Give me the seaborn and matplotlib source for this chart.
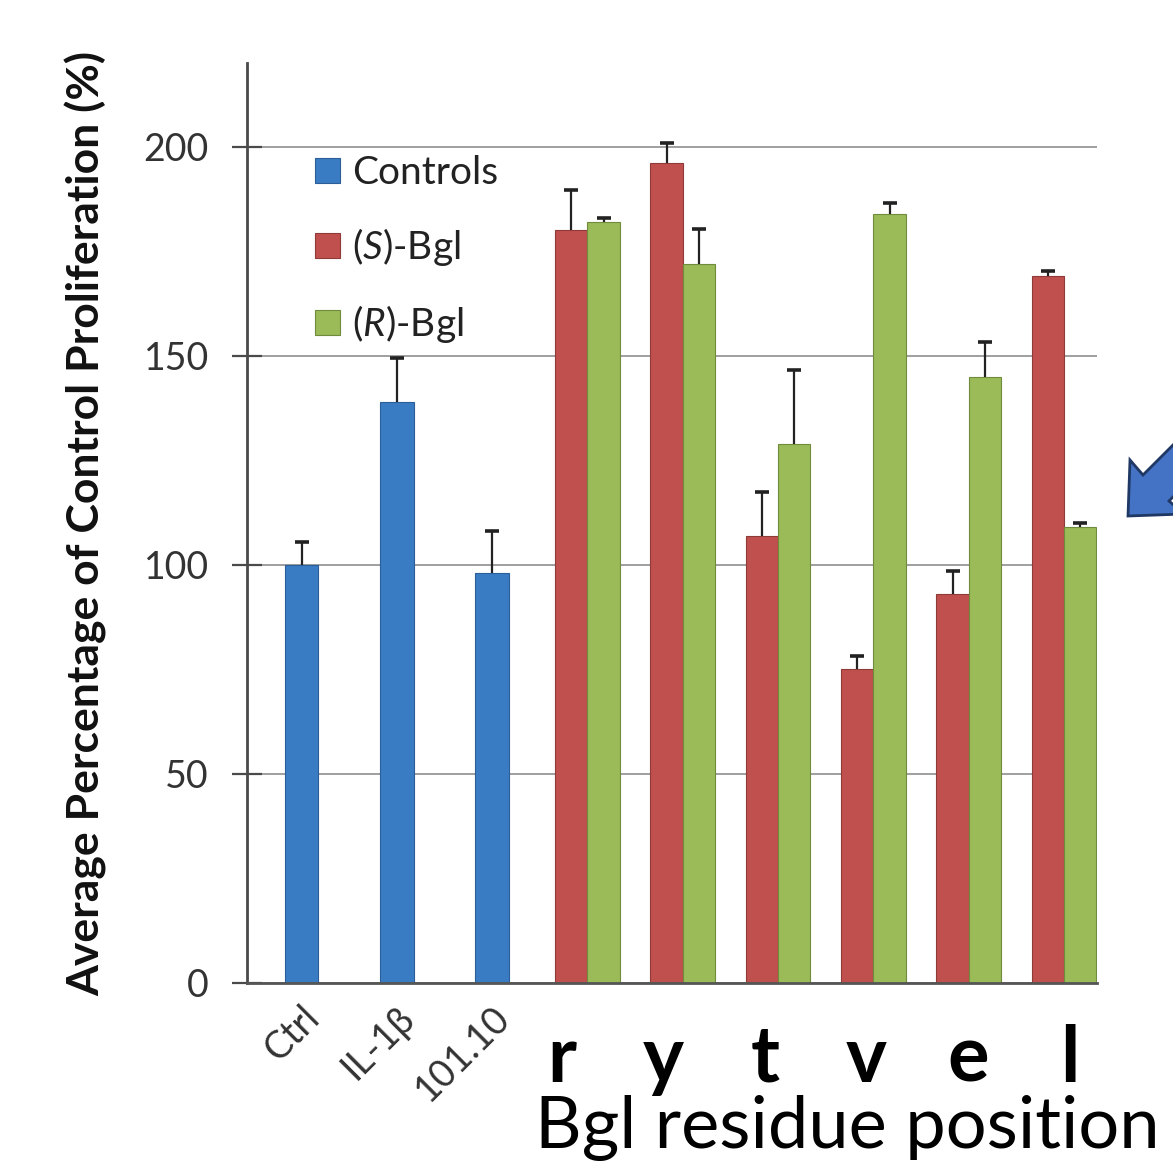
import numpy as np
import pandas as pd
import matplotlib.pyplot as plt
import matplotlib.transforms as mtransforms
from matplotlib.patches import Patch, Polygon
import seaborn as sns

# Values
CONTROL_LABELS = ["Ctrl", "IL-1\u03b2", "101.10"]
CONTROL_VALUES = [100, 139, 98]
CONTROL_ERR = [5.5, 10.5, 10]

RESIDUES = ["r", "y", "t", "v", "e", "l"]
S_VALUES = [180, 196, 107, 75, 93, 169]
S_ERR = [9.7, 4.8, 10.5, 3.1, 5.5, 1.2]
R_VALUES = [182, 172, 129, 184, 145, 109]
R_ERR = [0.9, 8.2, 17.6, 2.6, 8.3, 0.9]

SERIES = ["Controls", "(S)-Bgl", "(R)-Bgl"]
LEGEND_LABELS = ["Controls", "($\\mathit{S}$)-Bgl", "($\\mathit{R}$)-Bgl"]
COLORS = ["#3A7CC4", "#C0504D", "#9BBB59"]
EDGES = ["#2B5E98", "#8E3A38", "#6F8B3C"]

CATEGORIES = CONTROL_LABELS + RESIDUES

sns.set_theme(style="white")
plt.rcParams["font.family"] = ["Lato", "DejaVu Sans"]
plt.rcParams["mathtext.fontset"] = "custom"
plt.rcParams["mathtext.rm"] = "Lato"
plt.rcParams["mathtext.it"] = "Lato:italic"

fig = plt.figure(figsize=(11.73, 11.63), dpi=100, facecolor="white")
ax = fig.add_axes([0.2106, 0.1548, 0.7246, 0.791])

# Control bars
sns.barplot(x=CONTROL_LABELS, y=CONTROL_VALUES, order=CATEGORIES, color=COLORS[0],
            saturation=1, width=0.35, edgecolor=EDGES[0], linewidth=0.8, ax=ax)

# Paired (S)/(R) bars
pairs = pd.DataFrame({
    "residue": RESIDUES * 2,
    "value": S_VALUES + R_VALUES,
    "series": [SERIES[1]] * len(RESIDUES) + [SERIES[2]] * len(RESIDUES),
})
sns.barplot(data=pairs, x="residue", y="value", hue="series", order=CATEGORIES,
            hue_order=SERIES[1:], palette=COLORS[1:], saturation=1, width=0.68,
            dodge=True, edgecolor="#555555", linewidth=0.8, legend=False, ax=ax)

for cont, edge in zip(ax.containers[1:], EDGES[1:]):
    for p in cont:
        p.set_edgecolor(edge)

# Upper-only error bars
for cont, vals, errs in zip(ax.containers, [CONTROL_VALUES, S_VALUES, R_VALUES],
                            [CONTROL_ERR, S_ERR, R_ERR]):
    xs = [p.get_x() + p.get_width() / 2 for p in cont]
    eb = ax.errorbar(xs, vals, yerr=[np.zeros(len(errs)), errs], fmt="none",
                     ecolor="#222222", elinewidth=1.6, capsize=5, capthick=2.6, zorder=3)
    eb[1][0].set_visible(False)

ax.set_xlim(-0.572, 8.346)
ax.set_ylim(0, 220)
ax.set_yticks([0, 50, 100, 150, 200])
ax.yaxis.grid(True, color="#858585", linewidth=1.1)
ax.set_axisbelow(True)
for s in ["top", "right"]:
    ax.spines[s].set_visible(False)
ax.spines["left"].set_color("#4a4a4a")
ax.spines["left"].set_linewidth(2)
ax.spines["bottom"].set_color("#555555")
ax.spines["bottom"].set_linewidth(2)

ax.tick_params(axis="y", which="major", direction="inout", length=21, width=1.6,
               color="#4a4a4a", labelsize=27, labelcolor="#333333", pad=17, left=True)
ax.tick_params(axis="x", length=0, pad=12)
ax.set_xticks(range(len(CATEGORIES)))
ax.set_xticklabels(CONTROL_LABELS + [""] * len(RESIDUES), rotation=45, ha="right",
                   va="top", rotation_mode="anchor", fontsize=27, color="#333333")
shift = mtransforms.ScaledTranslation(-0.01, 0, fig.dpi_scale_trans)
for lab in ax.get_xticklabels():
    lab.set_transform(lab.get_transform() + shift)

ax.set_xlabel("")
ax.set_ylabel("Average Percentage of Control Proliferation (%)", fontsize=32,
              fontweight="bold", color="#111111")
ax.yaxis.set_label_coords(-0.165, 0.5)

handles = [Patch(facecolor=c, edgecolor=e, linewidth=0.8) for c, e in zip(COLORS, EDGES)]
ax.legend(handles, LEGEND_LABELS, loc="upper left", bbox_to_anchor=(0.039, 0.938),
          frameon=False, fontsize=28, labelspacing=0.9, handlelength=0.64,
          handleheight=0.64, handletextpad=0.31, labelcolor="#222222")

# Overlaid residue letters and axis caption
trans = mtransforms.blended_transform_factory(ax.transData, fig.transFigure)
for i, letter in enumerate(RESIDUES):
    ax.text(2.73 + 1.066 * i, 1 - 1082 / 1163, letter, transform=trans, ha="center",
            va="baseline", fontsize=56, fontweight="bold", color="black", clip_on=False)
fig.text(535 / 1173, 1 - 1148 / 1163, "Bgl residue position", ha="left", va="baseline",
         fontsize=52, color="black")

# Block arrow at the right edge (partly outside the canvas)
arrow_px = [(1128, 516), (1130, 460), (1143, 475), (1243, 375), (1268, 401),
            (1169, 501), (1184, 514)]
arrow_in = [(x / 100, (1163 - y) / 100) for x, y in arrow_px]
fig.patches.append(Polygon(arrow_in, closed=True, facecolor="#4472C4", edgecolor="#1F3864",
                           linewidth=2, transform=fig.dpi_scale_trans))

fig.savefig("out.png", dpi=100, facecolor="white")
